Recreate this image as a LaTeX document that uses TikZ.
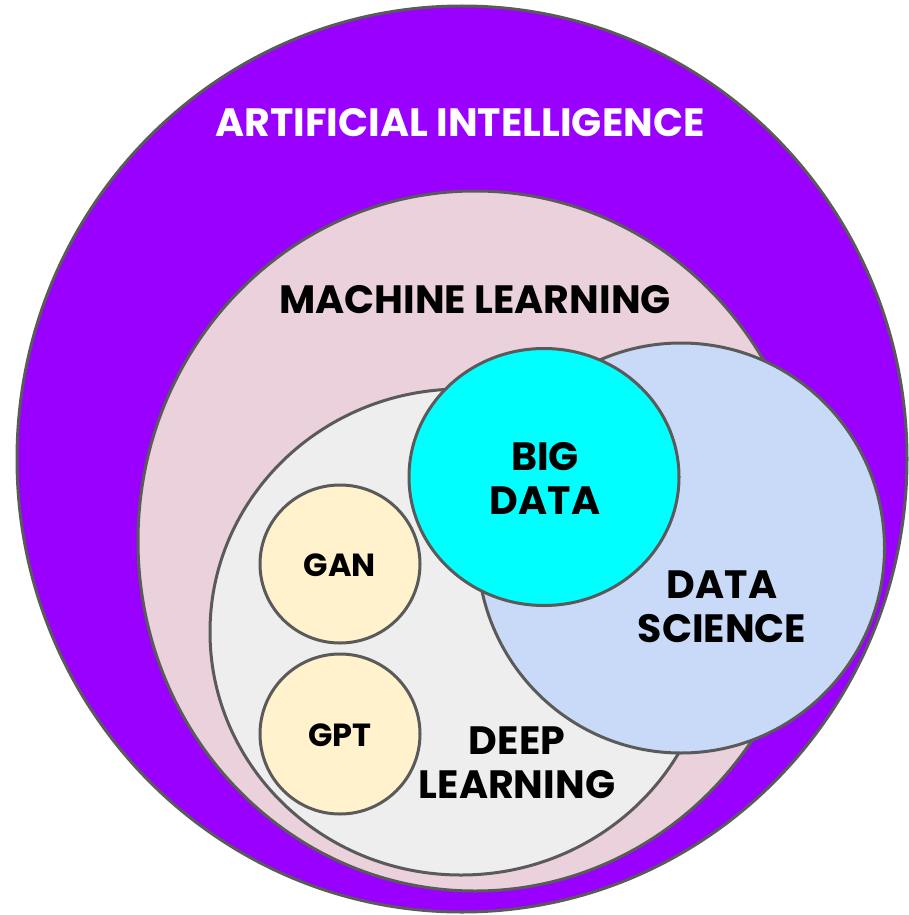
\documentclass[tikz,border=0pt]{standalone}
\usepackage{fontspec}
\setmainfont{Poppins}
\usetikzlibrary{shapes.geometric}

\definecolor{aipurple}{HTML}{9900FF}
\definecolor{mlpink}{HTML}{EAD1DC}
\definecolor{dlgrey}{HTML}{EEEEEE}
\definecolor{dsblue}{HTML}{C9DAF8}
\definecolor{bdcyan}{HTML}{00FFFF}
\definecolor{modelcream}{HTML}{FFF2CC}
\definecolor{rimgrey}{HTML}{5A5A5A}

\begin{document}
\begin{tikzpicture}[x=1pt,y=-1pt]

\tikzset{field/.style = {shape=ellipse,draw=rimgrey,line width=3pt,inner sep=0pt}}
\tikzset{tag/.style = {align=center,font=\fontsize{39.5}{44}\selectfont\bfseries}}
\tikzset{smalltag/.style = {font=\fontsize{32}{36}\selectfont\bfseries}}

\useasboundingbox (0,0) rectangle (909,915);

% nested areas
\node[field,fill=aipurple,minimum width=890,minimum height=906] (ai) at (462,459) {};
\node[field,fill=mlpink,minimum width=674,minimum height=700] (ml) at (475,541) {};
\node[field,fill=dlgrey,minimum width=502,minimum height=486] (dl) at (461,632) {};
\node[field,fill=dsblue,minimum width=407,minimum height=410] (ds) at (681,548) {};
\node[field,fill=bdcyan,minimum width=270,minimum height=257] (bd) at (544,477) {};
\node[field,fill=modelcream,minimum width=160,minimum height=158] (gan) at (340,564) {};
\node[field,fill=modelcream,minimum width=160,minimum height=160] (gpt) at (340,734) {};

% labels
\node[tag,text=white] (ailabel) at (460,123) {ARTIFICIAL INTELLIGENCE};
\node[tag] (mllabel) at (475,300) {MACHINE LEARNING};
\node[tag] (bdlabel) at (545,478) {BIG\\DATA};
\node[tag] (dslabel) at (722,607) {DATA\\SCIENCE};
\node[tag] (dllabel) at (517,763) {DEEP\\LEARNING};
\node[smalltag] (ganlabel) at (340,565) {GAN};
\node[smalltag] (gptlabel) at (340,735) {GPT};
\end{tikzpicture}
\end{document}
